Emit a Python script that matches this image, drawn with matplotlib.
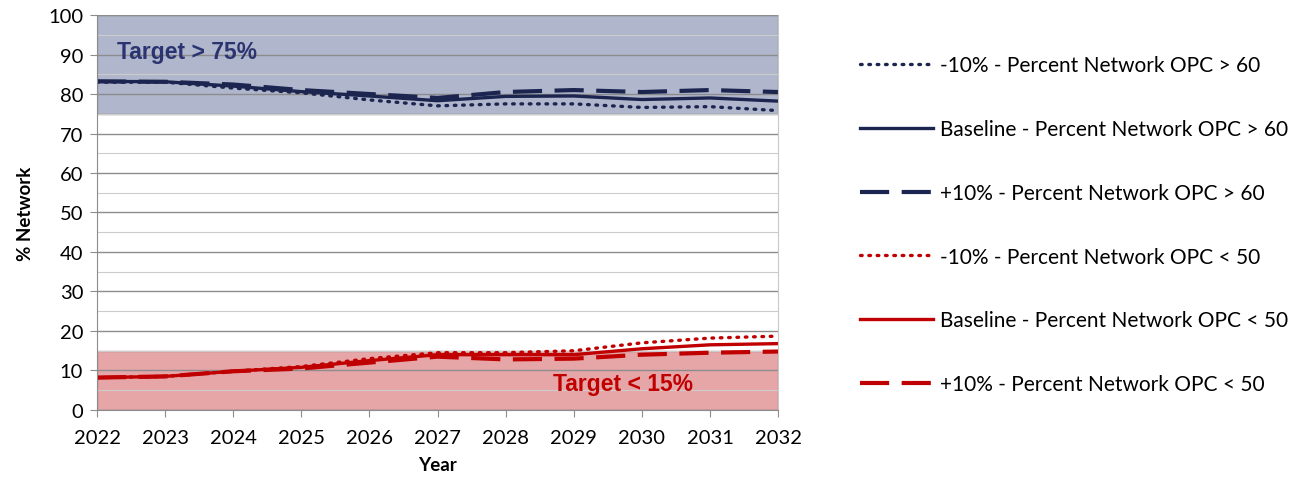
import numpy as np
import matplotlib
matplotlib.use("Agg")
import matplotlib.pyplot as plt
from matplotlib.ticker import MultipleLocator

plt.rcParams['font.family'] = ['Lato', 'DejaVu Sans']

# Daten
years = [2022, 2023, 2024, 2025, 2026, 2027, 2028, 2029, 2030, 2031, 2032]
opc60_minus = [83.0, 83.0, 81.5, 80.3, 78.5, 77.0, 77.5, 77.5, 76.6, 76.8, 75.8]
opc60_base = [83.2, 83.1, 82.0, 80.6, 79.5, 78.3, 79.4, 79.5, 78.6, 79.0, 78.2]
opc60_plus = [83.2, 83.1, 82.4, 81.0, 80.0, 79.0, 80.5, 81.0, 80.5, 81.0, 80.5]
opc50_minus = [8.2, 8.5, 9.8, 11.0, 13.0, 14.5, 14.5, 15.0, 17.0, 18.2, 18.7]
opc50_base = [8.2, 8.5, 9.8, 10.8, 12.5, 14.0, 14.0, 14.0, 15.5, 16.5, 16.8]
opc50_plus = [8.2, 8.5, 9.8, 10.5, 12.0, 13.5, 12.8, 13.0, 14.0, 14.5, 14.8]

NAVY = "#1c2550"
RED = "#c00000"

fig = plt.figure(figsize=(13.11, 4.85), dpi=100)
ax = fig.add_axes([0.074, 0.1526, 0.5195, 0.8144])

# Zielbereiche
ax.axhspan(75, 100, facecolor="#b0b7cc", edgecolor="#8c8c8c", lw=1.0, zorder=0)
ax.axhspan(0, 15, facecolor="#e6a6a8", edgecolor="#b08080", lw=1.0, zorder=0)

dotted = (0, (0.5, 2.0))
dashed = (0, (7, 3))
ax.plot(years, opc60_minus, color=NAVY, lw=2.4, ls=dotted, dash_capstyle="round",
        label="-10% - Percent Network OPC > 60")
ax.plot(years, opc60_base, color=NAVY, lw=2.4, label="Baseline - Percent Network OPC > 60")
ax.plot(years, opc60_plus, color=NAVY, lw=3.0, ls=dashed, label="+10% - Percent Network OPC > 60")
ax.plot(years, opc50_minus, color=RED, lw=2.4, ls=dotted, dash_capstyle="round",
        label="-10% - Percent Network OPC < 50")
ax.plot(years, opc50_base, color=RED, lw=2.4, label="Baseline - Percent Network OPC < 50")
ax.plot(years, opc50_plus, color=RED, lw=3.0, ls=dashed, label="+10% - Percent Network OPC < 50")

ax.text(2022.3, 90.8, "Target > 75%", color="#2b3470", fontsize=16.5, fontweight="bold",
        va="center", family=["Liberation Sans Narrow", "Liberation Sans", "DejaVu Sans"])
ax.text(2028.7, 6.6, "Target < 15%", color=RED, fontsize=16.5, fontweight="bold",
        va="center", family=["Liberation Sans Narrow", "Liberation Sans", "DejaVu Sans"])

ax.set_xlim(2022, 2032)
ax.set_ylim(0, 100)
ax.set_xticks(years)
ax.yaxis.set_major_locator(MultipleLocator(10))
ax.yaxis.set_minor_locator(MultipleLocator(5))
ax.grid(which="major", axis="y", color="#8c8c8c", lw=1.0, zorder=0.5)
ax.grid(which="minor", axis="y", color="#cccccc", lw=0.8, zorder=0.5)
ax.set_axisbelow(True)
ax.tick_params(axis="both", which="major", labelsize=14.5, length=5, color="#8c8c8c")
ax.tick_params(axis="x", which="major", pad=9)
ax.tick_params(axis="y", which="major", pad=5)
ax.tick_params(axis="y", which="minor", length=0)
ax.spines["top"].set_visible(False)
for side in ["left", "bottom"]:
    ax.spines[side].set_color("#8c8c8c")
ax.spines["right"].set_color("#c8c8c8")

ax.set_xlabel("Year", fontsize=13.5, fontweight="bold", labelpad=7)
ax.set_ylabel("% Network", fontsize=13.5, fontweight="bold", labelpad=10)

fig.legend(loc="upper left", bbox_to_anchor=(0.648, 0.905), frameon=False, fontsize=15,
           handlelength=3.5, handletextpad=0.35, labelspacing=2.1, borderpad=0)

fig.savefig("out.png", dpi=100)
